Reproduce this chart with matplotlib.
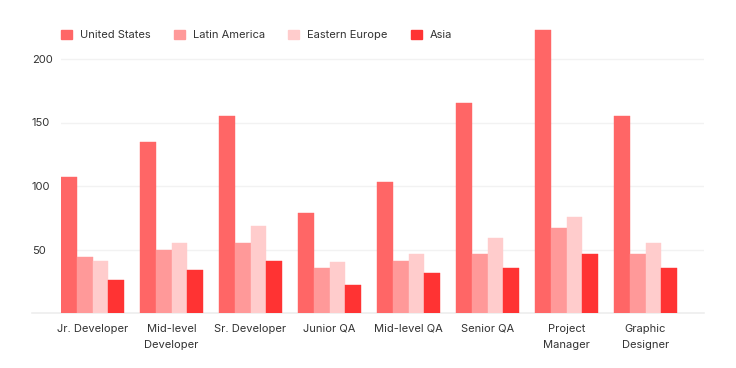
import numpy as np
import matplotlib
matplotlib.use("Agg")
import matplotlib.pyplot as plt
from matplotlib.patches import Patch

# data
roles = ["Jr. Developer", "Mid-level\nDeveloper", "Sr. Developer", "Junior QA",
         "Mid-level QA", "Senior QA", "Project\nManager", "Graphic\nDesigner"]
united_states = [107, 135, 155, 79, 103, 165, 223, 155]
latin_america = [44, 50, 55, 36, 41, 47, 67, 47]
eastern_europe = [41, 55, 69, 40, 47, 59, 76, 55]
asia = [26, 34, 41, 22, 32, 36, 47, 36]

series = [
    ("United States", united_states, "#ff6666"),
    ("Latin America", latin_america, "#ff9999"),
    ("Eastern Europe", eastern_europe, "#ffcccc"),
    ("Asia", asia, "#ff3333"),
]

plt.rcParams["font.family"] = ["Inter", "DejaVu Sans"]
fs = 8
W, H = 736, 368

fig = plt.figure(figsize=(W / 100, H / 100), dpi=100)
left, right, base, top = 61, 704, 313.3, 25
ax = fig.add_axes([left / W, (H - base) / H, (right - left) / W, (base - top) / H])

x = np.arange(len(roles))
bw = 0.2
for i, (name, vals, color) in enumerate(series):
    ax.bar(x - 0.3 + i * bw, vals, width=bw, color=color, label=name,
           edgecolor=color, linewidth=0.3, zorder=3)

ax.set_ylim(0, (base - top) / 1.272)
ax.set_xlim(-0.399, -0.399 + (right - left) / 79)

for v in [50, 100, 150, 200]:
    ax.axhline(v, color="#f2f2f2", linewidth=1, zorder=1)
ax.axhline(0, xmin=(32 - left) / (right - left), xmax=1, color="#eeeeee",
           linewidth=1.2, zorder=1, clip_on=False)

for s in ax.spines.values():
    s.set_visible(False)

ax.set_yticks([50, 100, 150, 200])
ax.set_yticklabels(["50", "100", "150", "200"], fontsize=fs, color="#333333")
for lab in ax.get_yticklabels():
    lab.set_horizontalalignment("left")
ax.tick_params(axis="y", length=0, pad=(left - 32) * 0.72)

ax.set_xticks(x)
ax.set_xticklabels(roles, fontsize=fs, color="#333333", linespacing=1.8)
ax.tick_params(axis="x", length=0, pad=7.5)

handles = [Patch(facecolor=c, edgecolor=c, label=n) for n, _, c in series]
fig.legend(handles=handles, loc="upper left", bbox_to_anchor=(left / W, 1 - 29.5 / H),
           ncol=4, frameon=False, fontsize=fs, handlelength=1.0, handleheight=1.0,
           handletextpad=0.7, columnspacing=2.1, borderpad=0, borderaxespad=0,
           labelcolor="#333333")

fig.savefig("out.png", dpi=100)
